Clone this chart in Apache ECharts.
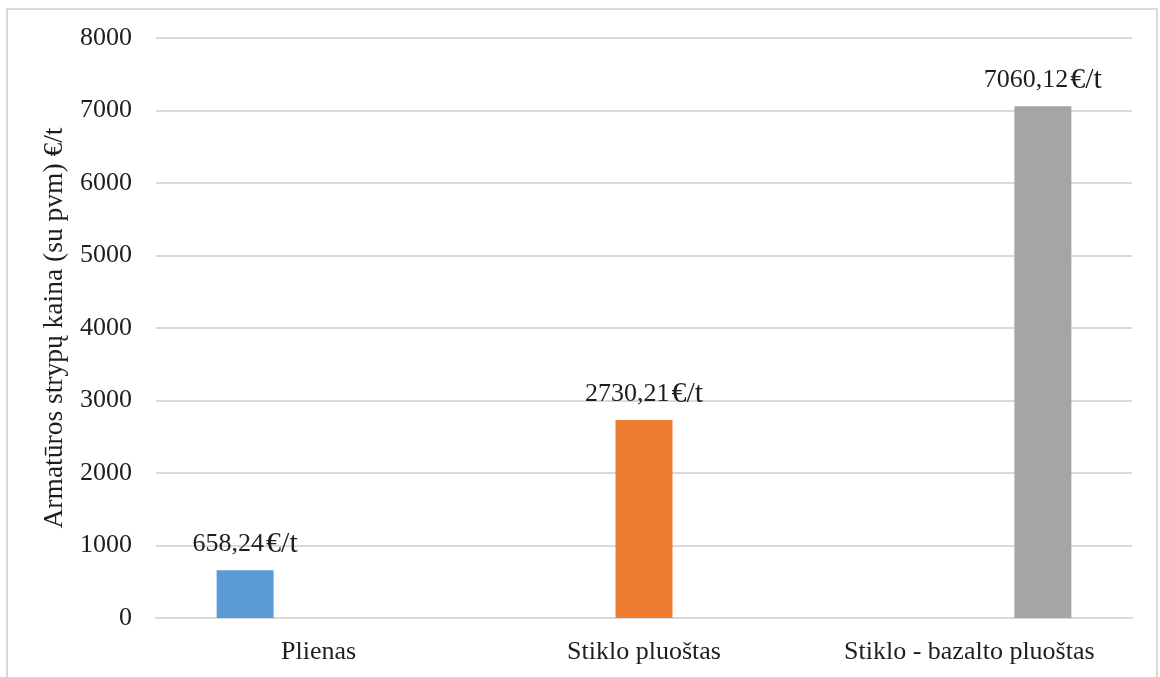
<!DOCTYPE html>
<html>
<head>
<meta charset="utf-8">
<script src="https://cdn.jsdelivr.net/npm/echarts@6/dist/echarts.min.js"></script>
<style>
  html, body { margin: 0; padding: 0; background: #fff; }
  #chart { width: 1160px; height: 677px; }
</style>
</head>
<body>
<div id="chart"></div>
<script>
// Armatūros strypų kainos palyginimas
const categories = ['Plienas', 'Stiklo pluoštas', 'Stiklo - bazalto pluoštas'];
const prices = [658.24, 2730.21, 7060.12];
const colors = ['#5B9BD5', '#ED7D31', '#A5A5A5'];
const yTicks = { min: 0, max: 8000, interval: 1000 };
const yTitle = 'Armatūros strypų kaina (su pvm) €/t';
const unit = '€/t';

const font = 'Liberation Serif';
const textColor = '#1e1e1e';

// Each material is its own series, with a value only in its own category
const series = prices.map((v, i) => ({
  type: 'bar',
  name: categories[i],
  data: categories.map((_, j) => (j === i ? v : '-')),
  barWidth: 57,
  barGap: '29%',
  itemStyle: { color: colors[i] },
  label: {
    show: true,
    position: 'top',
    distance: 11,
    color: textColor,
    formatter: p => '{n|' + p.value.toFixed(2).replace('.', ',') + '}{u|' + unit + '}',
    rich: {
      n: { fontFamily: font, fontSize: 26, color: textColor },
      u: { fontFamily: font, fontSize: 30, color: textColor, padding: [0, 0, 0, 2] }
    }
  }
}));

const chart = echarts.init(document.getElementById('chart'));
chart.setOption({
  animation: false,
  backgroundColor: '#fff',
  graphic: [{
    type: 'rect',
    shape: { x: 7, y: 9, width: 1150, height: 700 },
    style: { fill: 'none', stroke: '#d9d9d9', lineWidth: 2 },
    silent: true
  }],
  grid: { left: 156, right: 28, top: 38, bottom: 59 },
  xAxis: {
    type: 'category',
    data: categories,
    axisLine: { show: true, lineStyle: { color: '#d9d9d9', width: 2 } },
    axisTick: { show: false },
    axisLabel: { interval: 0, fontFamily: font, fontSize: 26, color: textColor, margin: 21 }
  },
  yAxis: {
    type: 'value',
    min: yTicks.min,
    max: yTicks.max,
    interval: yTicks.interval,
    name: yTitle,
    nameLocation: 'middle',
    nameGap: 86,
    nameTextStyle: { fontFamily: font, fontSize: 27.5, color: textColor },
    axisLine: { show: false },
    axisTick: { show: false },
    axisLabel: {
      fontFamily: font, fontSize: 26, color: textColor, margin: 24,
      formatter: v => String(v)
    },
    splitLine: { lineStyle: { color: '#d9d9d9', width: 2 } }
  },
  series: series
});
</script>
</body>
</html>
